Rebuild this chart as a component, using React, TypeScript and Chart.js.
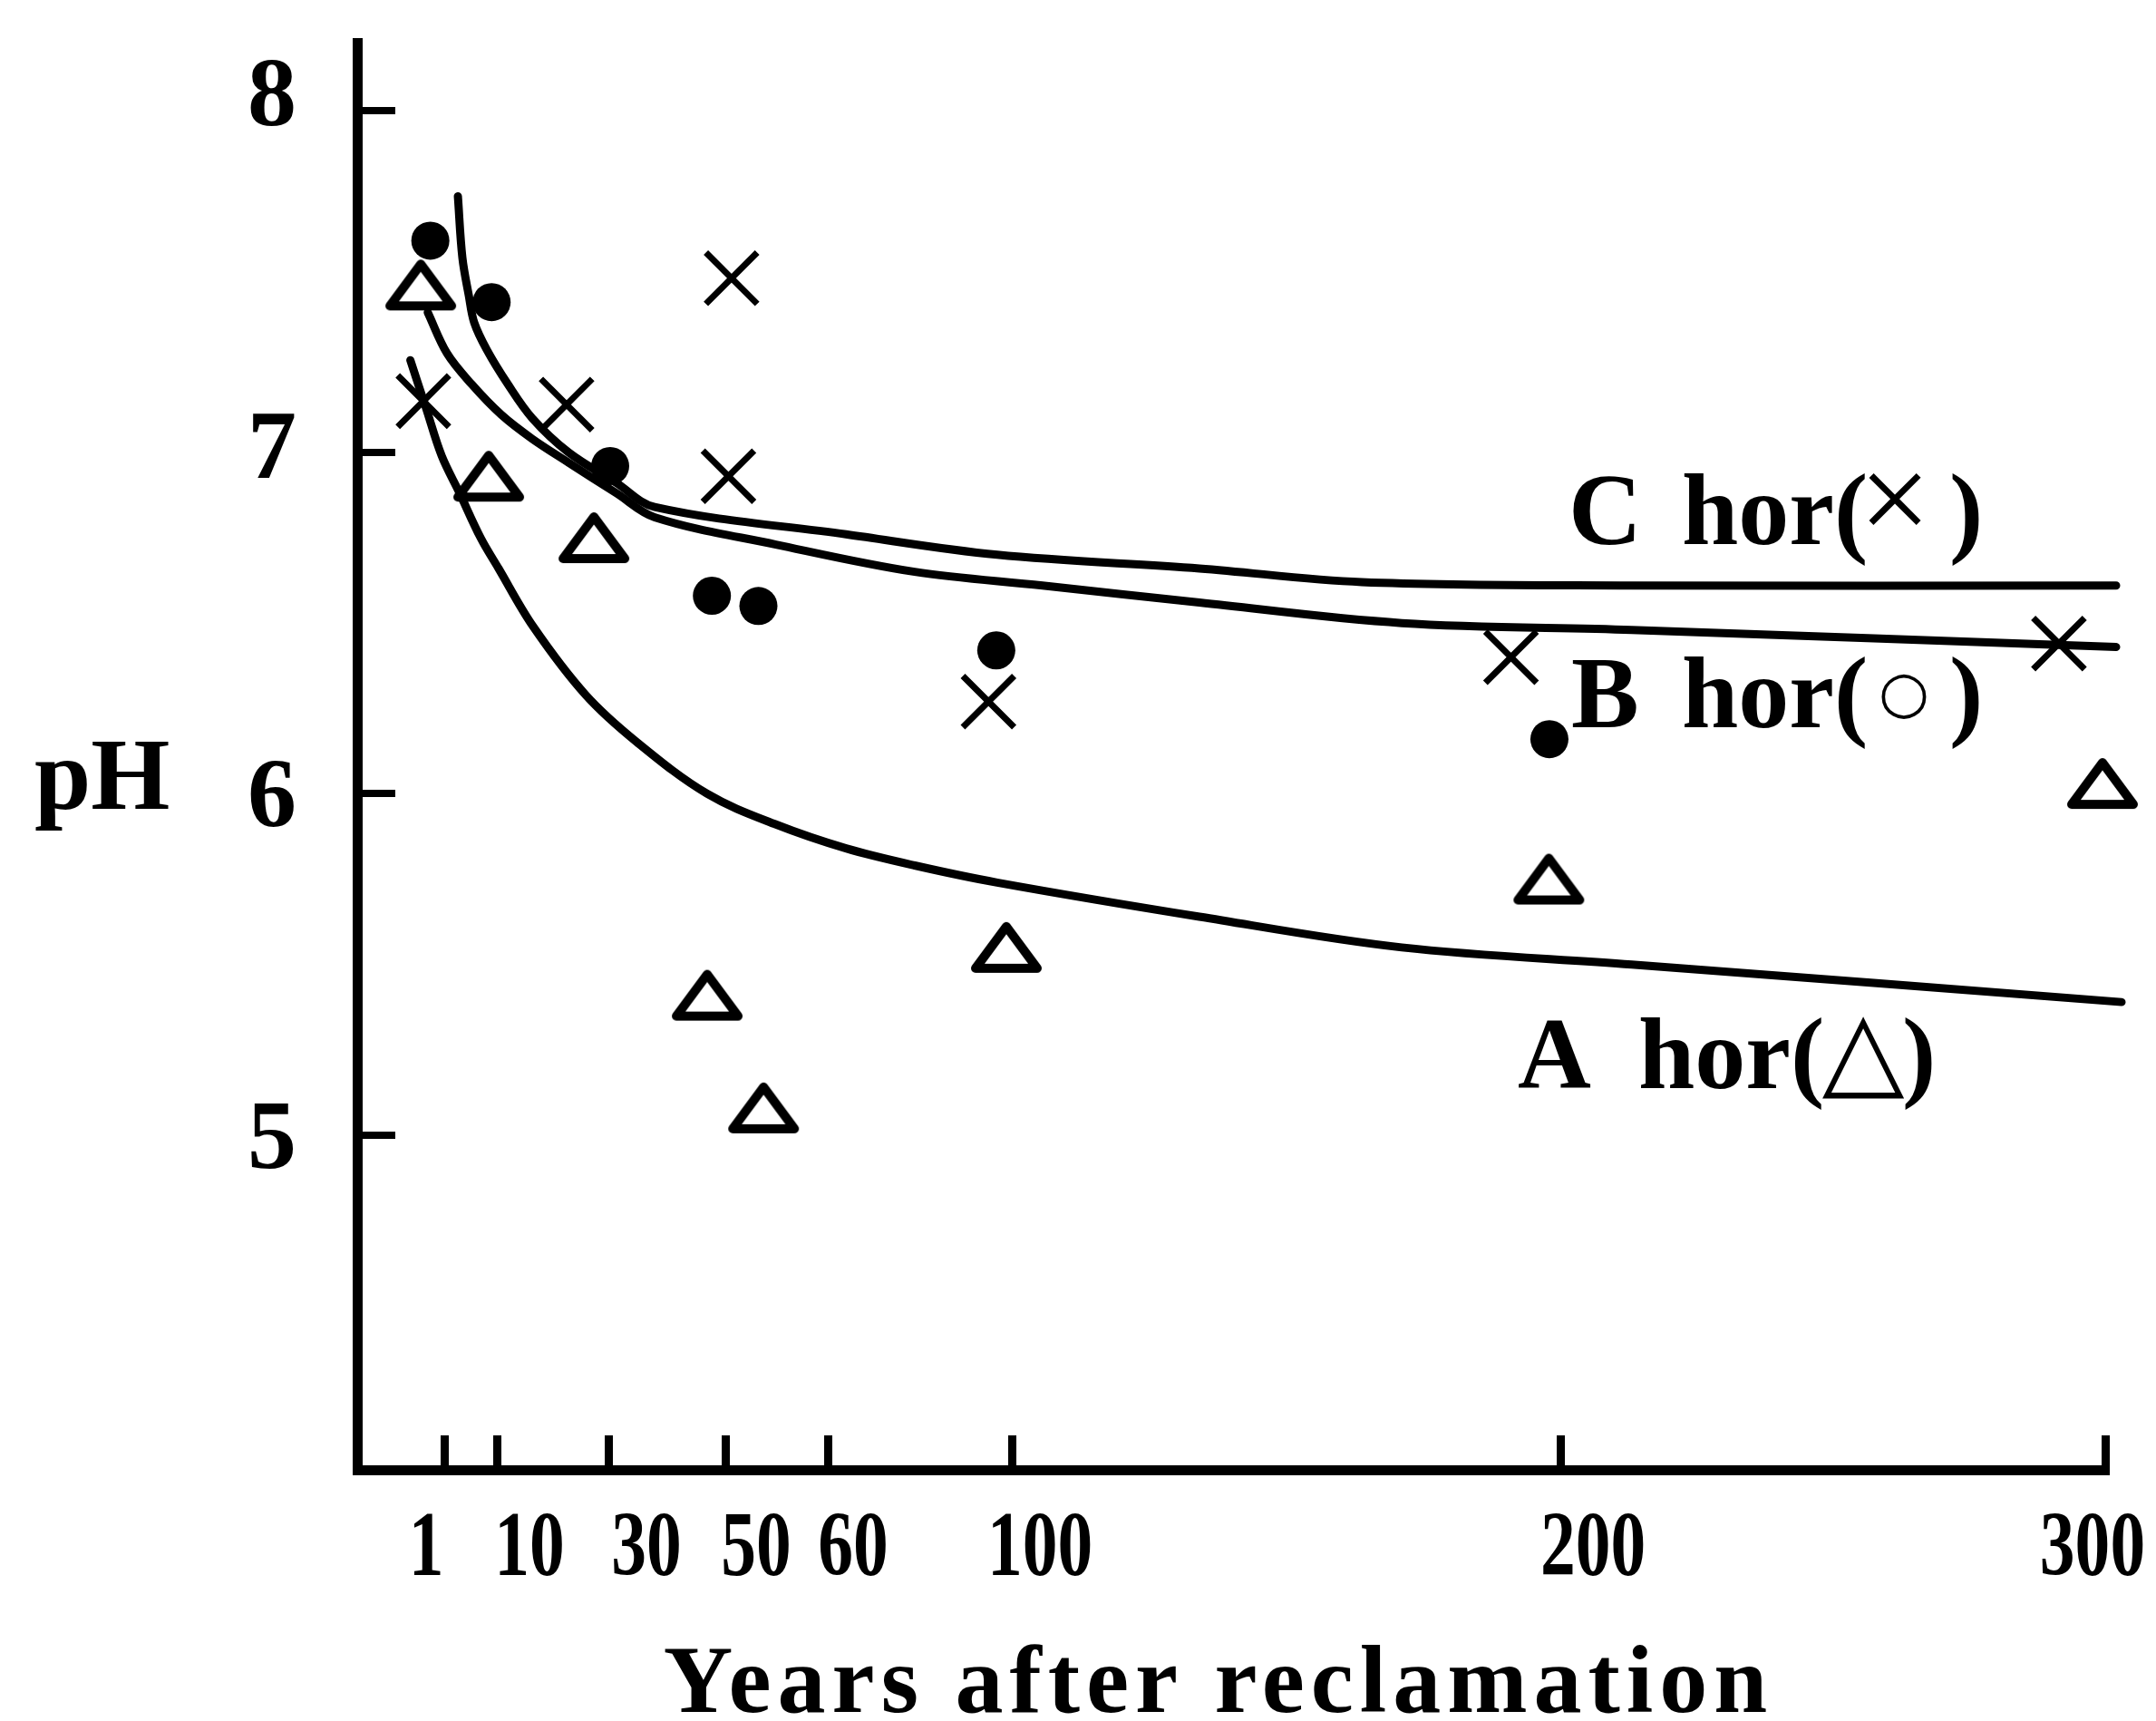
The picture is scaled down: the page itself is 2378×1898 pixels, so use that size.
import React, { useEffect, useRef } from 'react';
import { Chart, registerables, LinearScale } from 'chart.js';

Chart.register(...registerables);

// ---------- Axis definition (the source figure uses a non-uniform year axis) ----------
const xTickYears = [1, 10, 30, 50, 60, 100, 200, 300];
const xTickLabels = ['1', '10', '30', '50', '60', '100', '200', '300'];
const yTickValues = [5, 6, 7, 8];

// ---------- Observations ----------
// A horizon (triangles)
const aYears = [0.73, 8.6, 27.4, 46.9, 53.7, 98.8, 197.9, 299.5];
const aPH = [7.49, 6.93, 6.75, 5.41, 5.08, 5.55, 5.75, 6.03];
// B horizon (filled dots)
const bYears = [0.84, 9.1, 30.3, 47.7, 53.2, 96.6, 198];
const bPH = [7.62, 7.44, 6.96, 6.58, 6.55, 6.42, 6.16];
// C horizon (crosses)
const cYears = [0.76, 22.5, 50.6, 50.3, 94.9, 191, 291.5];
const cPH = [7.15, 7.14, 7.51, 6.93, 6.27, 6.40, 6.44];

// ---------- Fitted curves ----------
const curveUpperYears = [3.33, 4.1, 5.19, 6.12, 8.29, 11.95, 16.34, 22.85, 31.4, 37.9, 63.8, 96.8, 134.2, 163.8, 213.1, 302];
const curveUpperPH = [7.75, 7.57, 7.46, 7.38, 7.30, 7.20, 7.10, 7.00, 6.91, 6.84, 6.76, 6.70, 6.66, 6.62, 6.61, 6.61];
const curveLowerYears = [0.81, 1.47, 5.66, 10.8, 16.3, 22.85, 31.4, 37.9, 54.9, 78.8, 105.6, 134.2, 171.1, 213.1, 302];
const curveLowerPH = [7.41, 7.29, 7.20, 7.11, 7.04, 6.97, 6.88, 6.81, 6.73, 6.65, 6.61, 6.56, 6.50, 6.48, 6.43];
const curveAYears = [0.61, 0.79, 0.97, 3.64, 7.21, 10.3, 16.5, 25.9, 34.96, 46.9, 54.9, 63.8, 78.8, 96.8, 134.2, 171.1, 213.1, 303];
const curveAPH = [7.27, 7.13, 6.99, 6.88, 6.75, 6.66, 6.49, 6.29, 6.15, 6.00, 5.91, 5.84, 5.79, 5.74, 5.64, 5.55, 5.50, 5.39];

// ---------- Labels ----------
const xTitle = 'Years after reclamation';
const yTitle = 'pH';
const horizonLetters = ['C', 'B', 'A'];
const horizonSymbols = ['×', '○', '△'];

// ---------- Piecewise year scale (anchors of the drawn axis, as axis fractions) ----------
const X_ANCHOR_YEARS = [0, 1, 10, 30, 50, 60, 100, 200, 300];
const X_ANCHOR_FRAC = [0, 0.0498, 0.0799, 0.1437, 0.2106, 0.2697, 0.3745, 0.6883, 1];
// label nudges relative to their ticks (px), as typeset in the figure
const X_LABEL_SHIFT = [-20, 36, 42, 34, 27, 31, 36, -14];
const Y_LABEL_SHIFT = [0, 0, -8, -20];

function yearToFrac(v: number): number {
  const ys = X_ANCHOR_YEARS;
  const fs = X_ANCHOR_FRAC;
  let i = 0;
  while (i < ys.length - 2 && v > ys[i + 1]) i++;
  return fs[i] + ((v - ys[i]) * (fs[i + 1] - fs[i])) / (ys[i + 1] - ys[i]);
}
function fracToYear(f: number): number {
  const ys = X_ANCHOR_YEARS;
  const fs = X_ANCHOR_FRAC;
  let i = 0;
  while (i < fs.length - 2 && f > fs[i + 1]) i++;
  return ys[i] + ((f - fs[i]) * (ys[i + 1] - ys[i])) / (fs[i + 1] - fs[i]);
}

class BrokenYearScale extends LinearScale {
  static id = 'brokenYears';
  static defaults = LinearScale.defaults;
  getPixelForValue(value: any) {
    if (value === null || value === undefined || isNaN(value)) return NaN;
    return this.getPixelForDecimal(yearToFrac(+value));
  }
  getValueForPixel(pixel: number) {
    return fracToYear(this.getDecimalForPixel(pixel));
  }
}
Chart.register(BrokenYearScale as any);

const SERIF = '"Liberation Serif", "Times New Roman", serif';
const SYMF = '"DejaVu Sans", sans-serif';

const pts = (xs: number[], ys: number[]) => xs.map((x, i) => ({ x, y: ys[i] }));

function makeTriangle(): HTMLCanvasElement {
  const c = document.createElement('canvas');
  c.width = 84;
  c.height = 64;
  const g = c.getContext('2d')!;
  g.lineWidth = 10;
  g.lineJoin = 'round';
  g.strokeStyle = '#000';
  g.beginPath();
  g.moveTo(42, 9);
  g.lineTo(76, 55);
  g.lineTo(8, 55);
  g.closePath();
  g.stroke();
  return c;
}

const textPlugin = {
  id: 'figureText',
  beforeDraw(chart: any) {
    const ctx = chart.ctx;
    ctx.save();
    ctx.fillStyle = '#fff';
    ctx.fillRect(0, 0, chart.width, chart.height);
    ctx.restore();
  },
  afterDraw(chart: any) {
    const ctx = chart.ctx as CanvasRenderingContext2D;
    const xs = chart.scales.x;
    const ys = chart.scales.y;
    ctx.save();
    ctx.fillStyle = '#000';

    // y tick labels
    ctx.font = `bold 108px ${SERIF}`;
    ctx.textAlign = 'right';
    ctx.textBaseline = 'alphabetic';
    ys.ticks.forEach((t: any) => {
      const i = yTickValues.indexOf(t.value);
      const py = ys.getPixelForValue(t.value) + (Y_LABEL_SHIFT[i] || 0);
      ctx.fillText(String(t.value), 327, py + 36);
    });

    // x tick labels (condensed)
    ctx.font = `bold 102px ${SERIF}`;
    ctx.textAlign = 'center';
    xs.ticks.forEach((t: any) => {
      const i = xTickYears.indexOf(t.value);
      const px = xs.getPixelForValue(t.value) + X_LABEL_SHIFT[i];
      ctx.save();
      ctx.translate(px, 1737);
      ctx.scale(0.76, 1);
      ctx.fillText(xTickLabels[i], 0, 0);
      ctx.restore();
    });

    // y title (horizontal)
    ctx.font = `bold 112px ${SERIF}`;
    ctx.textAlign = 'left';
    ctx.fillText(yTitle, 38, 892);

    // x title
    ctx.font = `bold 106px ${SERIF}`;
    ctx.textAlign = 'center';
    (ctx as any).letterSpacing = '7px';
    ctx.fillText(xTitle, 1344, 1888);
    (ctx as any).letterSpacing = '0px';

    // horizon labels
    const layout = [
      { lx: 1730, hx: 1855, by: 600, sx: 2090, sy: 560, rx: 2150, sf: `140px ${SERIF}` },
      { lx: 1733, hx: 1855, by: 802, sx: 2100, sy: 768, rx: 2150, sf: `64px ${SYMF}` },
      { lx: 1674, hx: 1807, by: 1200, sx: 2055, sy: 1166, rx: 2098, sf: `118px ${SYMF}` },
    ];
    layout.forEach((L, i) => {
      ctx.textAlign = 'left';
      ctx.textBaseline = 'alphabetic';
      ctx.font = `bold 112px ${SERIF}`;
      ctx.fillText(horizonLetters[i], L.lx, L.by);
      ctx.fillText('hor(', L.hx, L.by);
      ctx.fillText(')', L.rx, L.by);
      ctx.font = L.sf;
      ctx.textAlign = 'center';
      ctx.textBaseline = 'middle';
      ctx.fillText(horizonSymbols[i], L.sx, L.sy);
    });
    ctx.restore();
  },
};

export default function App() {
  const ref = useRef<HTMLCanvasElement>(null);
  useEffect(() => {
    const canvas = ref.current!;
    const tri = makeTriangle();
    const curve = (data: any[]) => ({
      type: 'line' as const,
      data,
      borderColor: '#000',
      borderWidth: 9,
      pointRadius: 0,
      fill: false,
      tension: 0.35,
      clip: false as any,
      borderCapStyle: 'round' as const,
      borderJoinStyle: 'round' as const,
    });
    const chart = new Chart(canvas, {
      type: 'scatter',
      data: {
        datasets: [
          curve(pts(curveUpperYears, curveUpperPH)),
          curve(pts(curveLowerYears, curveLowerPH)),
          curve(pts(curveAYears, curveAPH)),
          {
            type: 'scatter',
            data: pts(bYears, bPH),
            pointStyle: 'circle',
            pointRadius: 21,
            backgroundColor: '#000',
            borderColor: '#000',
            borderWidth: 0,
            clip: false as any,
          },
          {
            type: 'scatter',
            data: pts(cYears, cPH),
            pointStyle: 'crossRot',
            pointRadius: 40,
            borderColor: '#000',
            borderWidth: 7,
            clip: false as any,
          },
          {
            type: 'scatter',
            data: pts(aYears, aPH),
            pointStyle: tri as any,
            pointRadius: 30,
            borderColor: '#000',
            clip: false as any,
          },
        ] as any,
      },
      options: {
        responsive: false,
        animation: false,
        devicePixelRatio: 1,
        layout: { padding: { left: 394, right: 56, top: 41, bottom: 277 } },
        plugins: { legend: { display: false }, tooltip: { enabled: false }, title: { display: false } },
        scales: {
          x: {
            type: 'brokenYears' as any,
            min: 0,
            max: 300,
            afterBuildTicks: (s: any) => {
              s.ticks = xTickYears.map((v) => ({ value: v }));
            },
            afterFit: (s: any) => {
              s.height = 0;
            },
            ticks: { display: false },
            grid: { display: true, drawOnChartArea: false, drawTicks: true, tickLength: -38, lineWidth: 9, color: '#000' },
            border: { display: true, width: 11, color: '#000' },
          } as any,
          y: {
            type: 'linear',
            min: 4.02,
            max: 8.2,
            afterBuildTicks: (s: any) => {
              s.ticks = yTickValues.map((v) => ({ value: v }));
            },
            afterFit: (s: any) => {
              s.width = 0;
            },
            ticks: { display: false },
            grid: { display: true, drawOnChartArea: false, drawTicks: true, tickLength: -42, lineWidth: 8, color: '#000' },
            border: { display: true, width: 11, color: '#000' },
          } as any,
        },
      },
      plugins: [textPlugin],
    });
    return () => chart.destroy();
  }, []);
  return (
    <div style={{ position: 'absolute', left: 0, top: 0, width: 2378, height: 1898, background: '#fff' }}>
      <canvas ref={ref} width={2378} height={1898} style={{ display: 'block', width: 2378, height: 1898 }} />
    </div>
  );
}
